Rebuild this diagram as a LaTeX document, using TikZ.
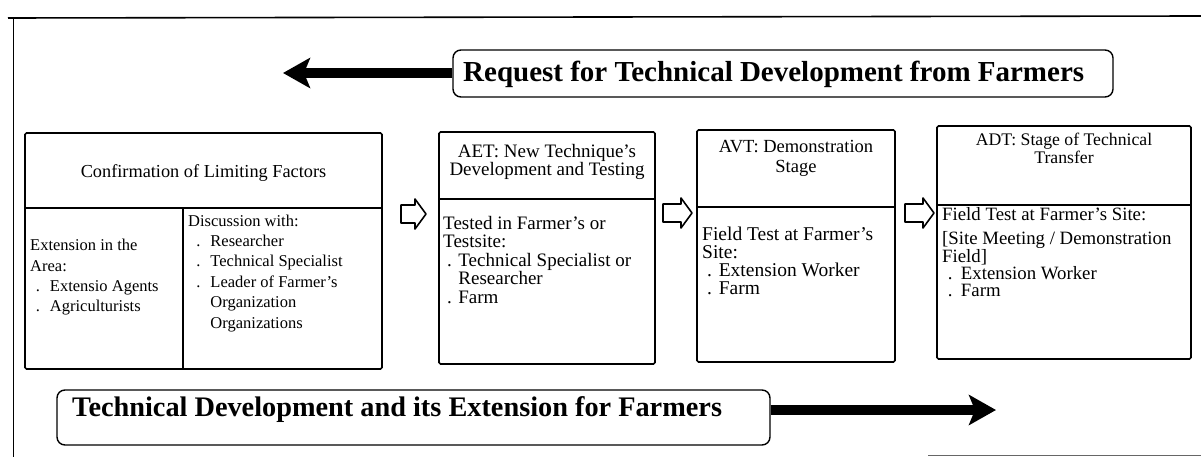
\documentclass[tikz,border=0pt]{standalone}
\usepackage{fontspec}
\setmainfont{Liberation Serif}
\usetikzlibrary{arrows.meta}
\newcommand\bitem[3][1em]{\makebox[#1][l]{\hspace{#2}.}#3}
\newcommand\bcont[2][1em]{\hspace*{#1}#2}
\newcommand\fsz[2]{\fontsize{#1}{#2}\selectfont}
\begin{document}
\begin{tikzpicture}[x=1pt,y=-1pt,
  frame/.style={line width=1.6pt},
  stagebox/.style={draw, line width=1.6pt, rounded corners=1.5pt, inner sep=0pt},
  divider/.style={line width=1.4pt},
  banner/.style={draw, line width=1.4pt, rounded corners=8pt, inner sep=0pt},
  bigarrow/.style={line width=10pt, -{Stealth[length=27pt,width=30pt,inset=6pt]}},
  hollowarrow/.style={draw, line width=1.6pt, fill=white, line join=round},
  hdr/.style={inner sep=0pt, align=center, anchor=north},
  bodytext/.style={inner sep=0pt, align=left, anchor=north west},
  title/.style={inner sep=0pt, anchor=base west}
]
\useasboundingbox (0,0) rectangle (1201,457);
% frame
\draw[frame] (8,18) -- (1201,16);
\draw[frame] (13.5,18) -- (13.5,457);
\draw[line width=1pt, black!60] (928,455.5) -- (1201,455.5);

% top banner
\node[banner, minimum width=660, minimum height=47] (req) at (783,73.5) {};
\node[title, font=\bfseries\fsz{29}{32}] (reqt) at (463,82) {Request for Technical Development from Farmers};
\coordinate (reqtip) at (283,73);
\draw[bigarrow] (req.west |- reqtip) -- (reqtip);

% stage boxes
\node[stagebox, minimum width=357, minimum height=236] (b1) at (203.5,251) {};
\node[stagebox, minimum width=216, minimum height=232] (b2) at (547,248) {};
\node[stagebox, minimum width=198, minimum height=232] (b3) at (796,246) {};
\node[stagebox, minimum width=254, minimum height=233] (b4) at (1064,242.5) {};

\draw[divider] (b1.west |- 0,208) -- (b1.east |- 0,208);
\draw[divider] (183,208) -- (b1.south -| 183,0);
\draw[divider] (b2.west |- 0,199) -- (b2.east |- 0,199);
\draw[divider] (b3.west |- 0,207) -- (b3.east |- 0,207);
\draw[divider] (b4.west |- 0,205) -- (b4.east |- 0,205);

% headers
\node[inner sep=0pt, anchor=base, font=\fsz{18.3}{18}] (h1) at (203.5,178) {Confirmation of Limiting Factors};
\node[hdr, font=\fsz{19}{18}] (h2) at (547,144) {AET: New Technique's\\Development and Testing};
\node[hdr, font=\fsz{18.5}{20}] (h3) at (796,140.5) {AVT: Demonstration\\Stage};
\node[hdr, font=\fsz{17.7}{18}] (h4) at (1064,133) {ADT: Stage of Technical\\Transfer};

% bodies
\node[bodytext, font=\fsz{16.5}{20.4}] (t1a) at (30,239) {Extension in the\\Area:\\\bitem[1.2em]{0.35em}{Extensio Agents}\\\bitem[1.2em]{0.35em}{Agriculturists}};
\node[bodytext, font=\fsz{16.5}{20.4}] (t1b) at (188,214.5) {Discussion with:\\\bitem[1.35em]{0.5em}{Researcher}\\\bitem[1.35em]{0.5em}{Technical Specialist}\\\bitem[1.35em]{0.5em}{Leader of Farmer's}\\\bcont[1.35em]{Organization}\\\bcont[1.35em]{Organizations}};
\node[bodytext, font=\fsz{19}{18.5}] (t2) at (443,216) {Tested in Farmer's or\\Testsite:\\\bitem[0.8em]{0.2em}{Technical Specialist or}\\\bcont[0.8em]{Researcher}\\\bitem[0.8em]{0.2em}{Farm}};
\node[bodytext, font=\fsz{19.5}{17.8}] (t3) at (702,227) {Field Test at Farmer's\\Site:\\\bitem[0.85em]{0.25em}{Extension Worker}\\\bitem[0.85em]{0.25em}{Farm}};
\node[bodytext, font=\fsz{18.8}{17}] (t4) at (942,207) {Field Test at Farmer's Site:\\[7pt]{[}Site Meeting / Demonstration\\Field]\\\bitem[1em]{0.3em}{Extension Worker}\\\bitem[1em]{0.3em}{Farm}};

% hollow arrows between stages
\foreach \xa/\xb/\yc in {401/426/214, 663/692/213, 905/934/213}{
  \draw[hollowarrow] (\xa,\yc-9) -- (\xb-11,\yc-9) -- (\xb-11,\yc-15) -- (\xb,\yc) -- (\xb-11,\yc+15) -- (\xb-11,\yc+9) -- (\xa,\yc+9) -- cycle;
}

% bottom banner
\node[banner, minimum width=713, minimum height=55] (dev) at (413.5,417.5) {};
\node[title, font=\bfseries\fsz{28.3}{31}] (devt) at (72,416) {Technical Development and its Extension for Farmers};
\coordinate (devtip) at (996,410);
\draw[bigarrow] (dev.east |- devtip) -- (devtip);
\end{tikzpicture}
\end{document}
